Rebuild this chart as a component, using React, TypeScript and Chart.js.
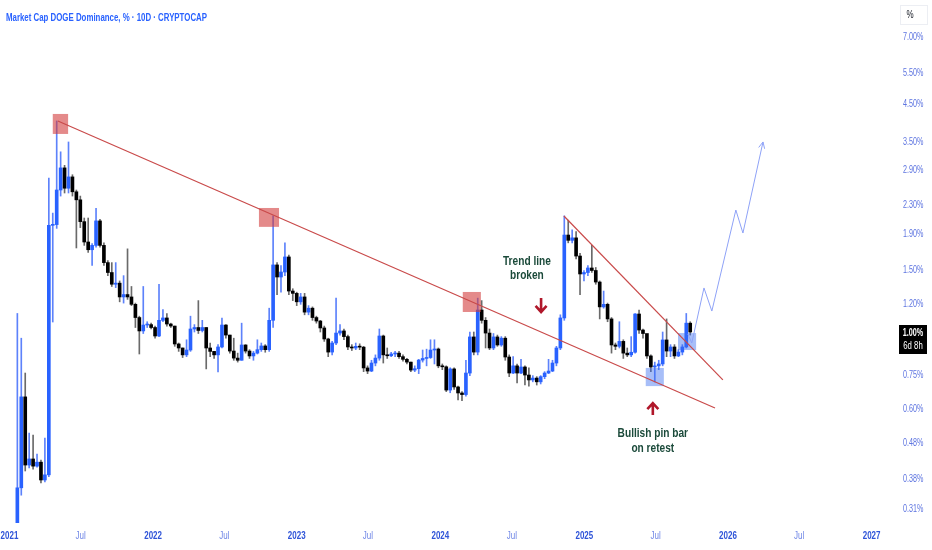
import React, { useEffect, useRef } from 'react';
import { Chart, registerables } from 'chart.js';

Chart.register(...registerables);

const FONT = '"Liberation Sans", Arial, sans-serif';

// ---------------- data ----------------
const titleText = 'Market Cap DOGE Dominance, % · 10D · CRYPTOCAP';
const firstCandleDate = '2021-01-21';
const candleStepDays = 10;
const firstOpen = 0.26;

const closes = [
  0.358, 0.652, 0.416, 0.433, 0.413, 0.424, 0.377, 0.39, 2.02, 2.03,
  2.55, 2.95, 2.58, 2.78, 2.52, 2.39, 2.07, 1.81, 1.72, 1.77,
  2.08, 1.77, 1.58, 1.48, 1.37, 1.38, 1.26, 1.28, 1.26, 1.2,
  1.1, 1.007, 1.047, 1.05, 1.03, 0.974, 1.08, 1.097, 1.054, 1.04,
  0.924, 0.9, 0.86, 0.888, 1.02, 1.03, 1.01, 1.03, 0.9, 0.88,
  0.86, 0.906, 1.047, 0.98, 0.882, 0.842, 0.83, 0.918, 0.882, 0.854,
  0.87, 0.89, 0.912, 0.89, 1.08, 1.556, 1.437, 1.485, 1.64, 1.31,
  1.29, 1.22, 1.26, 1.14, 1.17, 1.1, 1.075, 1.027, 0.955, 0.876,
  0.93, 0.993, 1.007, 0.97, 0.906, 0.9, 0.91, 0.905, 0.789, 0.773,
  0.815, 0.842, 0.974, 0.86, 0.855, 0.865, 0.87, 0.85, 0.835, 0.82,
  0.778, 0.785, 0.831, 0.84, 0.845, 0.888, 0.894, 0.8, 0.795, 0.682,
  0.784, 0.696, 0.669, 0.662, 0.763, 0.968, 0.876, 1.156, 1.08, 0.993,
  0.9, 0.968, 0.918, 0.96, 0.848, 0.763, 0.8, 0.763, 0.794, 0.753,
  0.729, 0.738, 0.72, 0.745, 0.763, 0.773, 0.815, 0.9, 1.097, 1.895,
  1.83, 1.86, 1.65, 1.466, 1.48, 1.525, 1.5, 1.39, 1.18, 1.2,
  1.09, 0.918, 0.91, 0.94, 0.87, 0.86, 0.875, 1.126, 1.013, 0.99,
  0.854, 0.794, 0.8, 0.81, 0.949, 0.882, 0.906, 0.854, 0.876, 0.906,
  1.06, 1.0,
];

const highs = [
  1.13, 0.96, 0.763, 0.514, 0.507, 0.447, 0.43, 0.497, 2.76, 2.19,
  4.02, 3.28, 3.0, 3.5, 2.82, 2.55, 2.45, 2.12, 2.12, 1.79,
  2.26, 2.1, 1.8, 1.6, 1.58, 1.58, 1.4, 1.45, 1.73, 1.35,
  1.21, 1.11, 1.35, 1.07, 1.06, 1.04, 1.37, 1.16, 1.13, 1.06,
  1.04, 0.93, 0.9, 0.95, 1.11, 1.05, 1.23, 1.08, 1.03, 0.93,
  0.88, 0.92, 1.097, 1.05, 0.98, 0.96, 0.87, 1.06, 0.92, 0.89,
  0.88, 0.95, 0.93, 0.92, 1.17, 2.15, 1.58, 1.55, 1.8, 1.66,
  1.33, 1.3, 1.29, 1.29, 1.19, 1.18, 1.11, 1.08, 1.04, 0.96,
  0.94, 1.25, 1.05, 1.02, 0.98, 0.92, 0.93, 0.925, 0.91, 0.8,
  0.83, 0.86, 1.02, 0.98, 0.9, 0.875, 0.88, 0.88, 0.86, 0.84,
  0.82, 0.8, 0.835, 0.888, 0.893, 0.95, 0.95, 0.9, 0.81, 0.8,
  0.79, 0.79, 0.7, 0.675, 0.83, 1.0, 1.0, 1.25, 1.23, 1.1,
  1.02, 0.99, 0.98, 0.97, 0.97, 0.86, 0.85, 0.81, 0.835, 0.8,
  0.79, 0.75, 0.745, 0.75, 0.77, 0.835, 0.83, 0.91, 1.12, 2.15,
  2.09, 1.96, 1.94, 1.68, 1.5, 1.55, 1.77, 1.53, 1.4, 1.31,
  1.21, 1.1, 0.93, 1.07, 0.95, 0.9, 0.97, 1.13, 1.156, 1.02,
  0.96, 0.86, 0.82, 0.83, 1.0, 1.09, 0.92, 0.92, 0.89, 0.92,
  1.13, 1.07,
];

const lows = [
  0.25, 0.341, 0.4, 0.408, 0.405, 0.41, 0.37, 0.372, 0.385, 1.068,
  1.98, 2.45, 2.5, 2.5, 2.45, 1.74, 1.99, 1.77, 1.69, 1.55,
  1.75, 1.75, 1.55, 1.45, 1.35, 1.34, 1.22, 1.21, 1.24, 1.19,
  1.03, 0.865, 0.99, 1.03, 1.02, 0.96, 0.97, 1.07, 1.04, 1.03,
  0.91, 0.88, 0.845, 0.85, 0.88, 1.0, 0.99, 1.0, 0.784, 0.85,
  0.84, 0.768, 0.9, 0.96, 0.87, 0.83, 0.82, 0.83, 0.87, 0.84,
  0.83, 0.865, 0.88, 0.875, 0.88, 1.03, 1.28, 1.3, 1.45, 1.28,
  1.23, 1.19, 1.2, 1.12, 1.12, 1.08, 1.06, 1.0, 0.94, 0.85,
  0.86, 0.92, 0.98, 0.95, 0.89, 0.885, 0.89, 0.89, 0.77, 0.76,
  0.77, 0.8, 0.83, 0.815, 0.84, 0.85, 0.85, 0.84, 0.825, 0.81,
  0.77, 0.77, 0.76, 0.82, 0.8, 0.84, 0.81, 0.79, 0.78, 0.675,
  0.67, 0.685, 0.639, 0.636, 0.655, 0.75, 0.86, 0.86, 1.06, 0.9,
  0.89, 0.89, 0.91, 0.91, 0.83, 0.745, 0.76, 0.715, 0.76, 0.705,
  0.7, 0.72, 0.705, 0.71, 0.735, 0.76, 0.77, 0.8, 0.89, 1.08,
  1.8, 1.8, 1.62, 1.28, 1.4, 1.45, 1.48, 1.37, 1.09, 1.17,
  1.07, 0.87, 0.89, 0.9, 0.84, 0.85, 0.85, 0.87, 0.99, 0.96,
  0.84, 0.77, 0.719, 0.78, 0.8, 0.85, 0.85, 0.84, 0.85, 0.86,
  0.9, 0.98,
];

const countdownText = '6d 8h';

const yTickValues = [7, 5.5, 4.5, 3.5, 2.9, 2.3, 1.9, 1.5, 1.2, 1.0, 0.75, 0.6, 0.48, 0.38, 0.31];
const xTickDates = [
  '2021-01-01', '2021-07-01', '2022-01-01', '2022-07-01', '2023-01-01', '2023-07-01', '2024-01-01',
  '2024-07-01', '2025-01-01', '2025-07-01', '2026-01-01', '2026-07-01', '2027-01-01',
];
const xTickLabels = ['2021', 'Jul', '2022', 'Jul', '2023', 'Jul', '2024', 'Jul', '2025', 'Jul', '2026', 'Jul', '2027'];

// annotations (days since 2021-01-01, value in %)
const redBoxes = [
  [110, 149, 4.21, 3.69],
  [634, 685, 2.265, 2.0],
  [1152, 1198, 1.302, 1.141],
];
const blueBoxes = [
  [1617, 1663, 0.789, 0.7],
  [1699, 1745, 0.993, 0.888],
];
const longTrendLine = [[123, 4.02], [1793, 0.606]];
const wedgeLine = [[1409, 2.148], [1813, 0.729]];
const projectionDays = [1724, 1734, 1765, 1785, 1846, 1864, 1915];
const projectionValues = [0.987, 0.93, 1.337, 1.148, 2.235, 1.92, 3.5];
const noteBroken = { day: 1315, value: 1.555, lines: ['Trend line', 'broken'] };
const arrowDown = { day: 1351, from: 1.251, to: 1.141 };
const arrowUp = { day: 1635, from: 0.5786, to: 0.626 };
const notePin = { day: 1635, value: 0.5005, lines: ['Bullish pin bar', 'on retest'] };

// ---------------- helpers ----------------
const EPOCH = Date.UTC(2021, 0, 1);
const dayOf = (s: string) => (Date.parse(s) - EPOCH) / 86400000;
const xTickDays = xTickDates.map(dayOf);
const startDay = dayOf(firstCandleDate);
const candleDays = closes.map((_, i) => startDay + i * candleStepDays);
const opens = closes.map((_, i) => (i === 0 ? firstOpen : closes[i - 1]));
const isUp = closes.map((c, i) => c >= opens[i]);
const isYear = (s: string) => /^\d+$/.test(s || '');

const UP = '#2962ff';
const DOWN = '#000000';
const UP_WICK = '#5d82fb';
const DOWN_WICK = '#6a6a6a';
const RED_BOX = 'rgba(210, 60, 60, 0.6)';
const BLUE_BOX = 'rgba(60, 110, 240, 0.45)';
const RED_LINE = '#c94a4a';
const PROJ = '#8ea2f7';
const NOTE = '#1b4a3a';
const ARROW = '#b0172a';

function condensed(
  ctx: CanvasRenderingContext2D,
  text: string,
  x: number,
  y: number,
  sx: number,
  align: CanvasTextAlign,
) {
  ctx.save();
  ctx.translate(x, y);
  ctx.scale(sx, 1);
  ctx.textAlign = align;
  ctx.fillText(text, 0, 0);
  ctx.restore();
}

function drawArrow(ctx: CanvasRenderingContext2D, x: number, yTail: number, yTip: number) {
  const dir = Math.sign(yTip - yTail);
  ctx.beginPath();
  ctx.moveTo(x, yTail);
  ctx.lineTo(x, yTip - dir * 1);
  ctx.moveTo(x - 5.5, yTip - dir * 6);
  ctx.lineTo(x, yTip);
  ctx.lineTo(x + 5.5, yTip - dir * 6);
  ctx.stroke();
}

const annotationPlugin = {
  id: 'tvAnnotations',
  afterDatasetsDraw(chart: any) {
    const { ctx, chartArea: a, scales } = chart;
    const px = (d: number) => scales.x.getPixelForValue(d);
    const py = (v: number) => scales.y.getPixelForValue(v);
    ctx.save();
    ctx.beginPath();
    ctx.rect(a.left, a.top, a.right - a.left, a.bottom - a.top);
    ctx.clip();

    ctx.fillStyle = RED_BOX;
    redBoxes.forEach((b) => {
      ctx.fillRect(px(b[0]), py(b[2]), px(b[1]) - px(b[0]), py(b[3]) - py(b[2]));
    });
    ctx.fillStyle = BLUE_BOX;
    blueBoxes.forEach((b) => {
      ctx.fillRect(px(b[0]), py(b[2]), px(b[1]) - px(b[0]), py(b[3]) - py(b[2]));
    });

    ctx.strokeStyle = RED_LINE;
    ctx.lineWidth = 1.2;
    [longTrendLine, wedgeLine].forEach((ln) => {
      ctx.beginPath();
      ctx.moveTo(px(ln[0][0]), py(ln[0][1]));
      ctx.lineTo(px(ln[1][0]), py(ln[1][1]));
      ctx.stroke();
    });

    // projection path
    ctx.strokeStyle = PROJ;
    ctx.lineWidth = 1;
    ctx.beginPath();
    projectionDays.forEach((d, i) => {
      const X = px(d), Y = py(projectionValues[i]);
      if (i === 0) ctx.moveTo(X, Y); else ctx.lineTo(X, Y);
    });
    ctx.stroke();
    const n = projectionDays.length;
    const ex = px(projectionDays[n - 1]), ey = py(projectionValues[n - 1]);
    const sx = px(projectionDays[n - 2]), sy = py(projectionValues[n - 2]);
    const ang = Math.atan2(ey - sy, ex - sx);
    ctx.beginPath();
    ctx.moveTo(ex - 7 * Math.cos(ang - 0.45), ey - 7 * Math.sin(ang - 0.45));
    ctx.lineTo(ex, ey);
    ctx.lineTo(ex - 7 * Math.cos(ang + 0.45), ey - 7 * Math.sin(ang + 0.45));
    ctx.stroke();

    // arrows
    ctx.strokeStyle = ARROW;
    ctx.lineWidth = 2.6;
    ctx.lineJoin = 'miter';
    drawArrow(ctx, px(arrowDown.day), py(arrowDown.from), py(arrowDown.to));
    drawArrow(ctx, px(arrowUp.day), py(arrowUp.from), py(arrowUp.to));

    // notes
    ctx.fillStyle = NOTE;
    ctx.textBaseline = 'alphabetic';
    ctx.font = `bold 13px ${FONT}`;
    noteBroken.lines.forEach((t, i) =>
      condensed(ctx, t, px(noteBroken.day), py(noteBroken.value) + i * 13.5, 0.78, 'center'),
    );
    notePin.lines.forEach((t, i) =>
      condensed(ctx, t, px(notePin.day), py(notePin.value) + i * 15.5, 0.78, 'center'),
    );
    ctx.restore();
  },
  afterDraw(chart: any) {
    const { ctx, chartArea: a, scales } = chart;
    ctx.save();

    // y axis labels
    ctx.textBaseline = 'middle';
    ctx.fillStyle = '#5d74e0';
    ctx.font = `10px ${FONT}`;
    scales.y.ticks.forEach((t: any) => {
      condensed(ctx, Number(t.value).toFixed(2) + '%', a.right + 7, scales.y.getPixelForValue(t.value), 0.72, 'left');
    });

    // x axis labels
    scales.x.ticks.forEach((t: any, i: number) => {
      const lab = xTickLabels[i];
      const yr = isYear(lab);
      ctx.fillStyle = yr ? '#2f54d8' : '#6f86e6';
      ctx.font = `${yr ? 'bold ' : ''}10px ${FONT}`;
      condensed(ctx, lab, scales.x.getPixelForValue(t.value), a.bottom + 13.5, 0.8, 'center');
    });

    // title
    ctx.fillStyle = '#2962ff';
    ctx.font = `bold 11px ${FONT}`;
    ctx.textAlign = 'left';
    ctx.textBaseline = 'alphabetic';
    ctx.fillText(titleText, 6, 20.5, 201);

    // % box
    ctx.fillStyle = '#ffffff';
    ctx.fillRect(900, 5, 28, 20);
    ctx.strokeStyle = '#eceef3';
    ctx.lineWidth = 1;
    ctx.strokeRect(900.5, 5.5, 27, 19);
    ctx.fillStyle = '#131722';
    ctx.font = `10px ${FONT}`;
    ctx.textBaseline = 'middle';
    condensed(ctx, '%', 910, 15, 0.8, 'center');

    // last price label
    const last = closes[closes.length - 1];
    const yl = scales.y.getPixelForValue(last);
    ctx.fillStyle = '#000000';
    ctx.fillRect(a.right + 3, yl - 7, 28, 29);
    ctx.fillStyle = '#ffffff';
    ctx.font = `bold 10px ${FONT}`;
    ctx.textBaseline = 'middle';
    condensed(ctx, last.toFixed(2) + '%', a.right + 17, yl + 1, 0.72, 'center');
    ctx.font = `10px ${FONT}`;
    condensed(ctx, countdownText, a.right + 17, yl + 14, 0.78, 'center');
    ctx.restore();
  },
};

export default function App() {
  const ref = useRef<HTMLCanvasElement | null>(null);
  useEffect(() => {
    if (!ref.current) return;
    const chart = new Chart(ref.current, {
      type: 'bar',
      data: {
        datasets: [
          {
            label: 'wick',
            data: candleDays.map((d, i) => ({ x: d, y: [lows[i], highs[i]] })) as any,
            backgroundColor: isUp.map((u) => (u ? UP_WICK : DOWN_WICK)),
            barThickness: 1,
            grouped: false,
            borderWidth: 0,
            order: 1,
          },
          {
            label: 'body',
            data: candleDays.map((d, i) => ({
              x: d,
              y: [Math.min(opens[i], closes[i]), Math.max(opens[i], closes[i])],
            })) as any,
            backgroundColor: isUp.map((u) => (u ? UP : DOWN)),
            barThickness: 3,
            minBarLength: 1,
            grouped: false,
            borderWidth: 0,
            order: 0,
          },
        ],
      },
      options: {
        animation: false,
        responsive: false,
        events: [],
        layout: { padding: 0 },
        plugins: { legend: { display: false }, tooltip: { enabled: false }, title: { display: false } },
        scales: {
          x: {
            type: 'linear',
            min: -24.1,
            max: 2253,
            offset: false,
            grid: { display: false, drawTicks: false },
            border: { display: false },
            afterBuildTicks: (s: any) => {
              s.ticks = xTickDays.map((v) => ({ value: v }));
            },
            afterFit: (s: any) => {
              s.height = 27;
              s.paddingLeft = 0;
              s.paddingRight = 0;
            },
            ticks: { display: false, autoSkip: false, maxRotation: 0 },
          },
          y: {
            type: 'logarithmic',
            position: 'right',
            min: 0.2839,
            max: 8.923,
            grid: { display: false, drawTicks: false },
            border: { display: false },
            afterBuildTicks: (s: any) => {
              s.ticks = yTickValues.map((v) => ({ value: v }));
            },
            afterFit: (s: any) => {
              s.width = 36;
              s.paddingTop = 0;
              s.paddingBottom = 0;
            },
            ticks: { display: false, autoSkip: false },
          },
        },
      } as any,
      plugins: [annotationPlugin],
    });
    return () => chart.destroy();
  }, []);

  return (
    <div style={{ position: 'fixed', left: 0, top: 0, width: 932, height: 550, background: '#ffffff' }}>
      <canvas ref={ref} width={932} height={550} style={{ display: 'block' }} />
    </div>
  );
}
